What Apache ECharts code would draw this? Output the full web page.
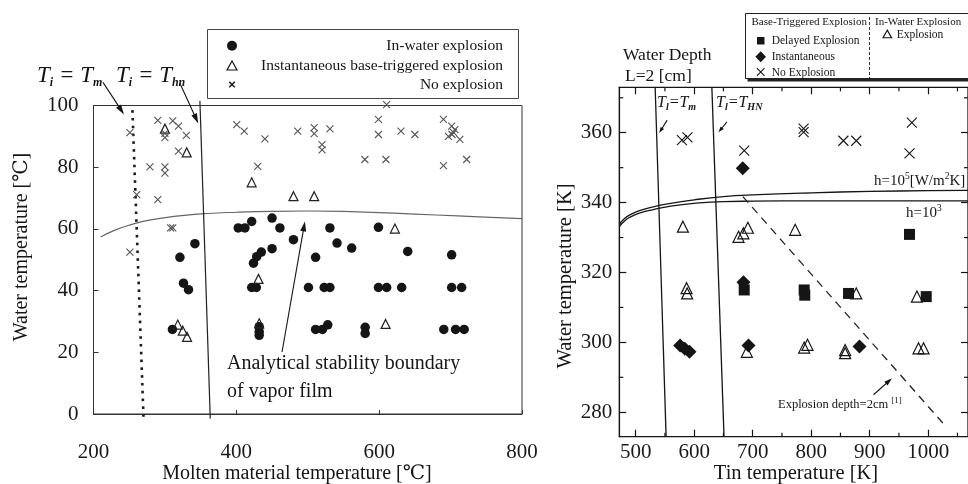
<!DOCTYPE html>
<html>
<head>
<meta charset="utf-8">
<script src="https://cdn.jsdelivr.net/npm/echarts@6/dist/echarts.min.js"></script>
<style>
  html, body { margin: 0; padding: 0; background: #fff; }
  #c { width: 968px; height: 484px; }
</style>
</head>
<body>
<div id="c"></div>
<script>
const SERIF = "'Liberation Serif', 'DejaVu Serif', serif";

// ---------- Left panel: molten material temperature [°C] vs water temperature [°C] ----------
const leftXTicks = [200, 400, 600, 800];
const leftYTicks = [0, 20, 40, 60, 80, 100];

// In-water explosion (filled circles)
const leftInWater = [
  [402.7, 60.3], [412, 60.3], [421.5, 62.4], [450, 63.5], [461, 60.3], [480, 56.5], [531, 60.3], [599, 60.5],
  [342, 55.2], [321, 50.8], [424, 48.9], [428.5, 51.0], [435, 52.5], [450, 53.6], [511, 50.8], [541, 55.4],
  [561.5, 53.8], [640, 52.7], [701.5, 51.6],
  [326, 42.4], [333, 40.3], [421.5, 41], [428, 41], [501, 41], [523, 41], [531, 41], [599, 41], [610.5, 41],
  [631.5, 41], [701.5, 41], [715.5, 41],
  [310.5, 27.4], [432, 28.3], [432, 26.7], [432, 25.5], [511, 27.4], [520.6, 27.4], [528, 28.9],
  [580.4, 28.1], [580.4, 26.1], [690.5, 27.4], [707, 27.4], [719, 27.4]
];
// Instantaneous base-triggered explosion (open triangles)
const leftBaseTriggered = [
  [300, 92.5], [330.5, 84.8], [421.5, 75.1], [480, 70.6], [509, 70.6], [622, 60.1], [431, 43.8],
  [318, 29], [325, 27], [331, 25], [432, 29.4], [609, 29.2]
];
// No explosion (crosses)
const leftNoExplosion = [
  [251, 91.2], [290, 95.2], [311, 95], [319, 93.3], [330, 90.3], [300, 91], [300, 89.6], [319, 85.2],
  [279, 80.1], [300, 80.1], [300, 78.1], [290, 69.5], [260.5, 71.1], [308, 60.3], [311, 60.3], [251, 52.5],
  [400.5, 93.8], [411, 91.7], [440, 89.2], [430, 80.3], [486, 91.7], [509, 92.8], [509, 90.9], [531, 92.4],
  [520, 87.3], [520, 85.6], [610.5, 100.3], [599, 95.5], [599, 90.6], [630.5, 91.7], [650, 90.6],
  [580, 82.5], [609.5, 82.5], [690, 95.5], [701.5, 93.3], [697, 90], [704, 91.3], [706, 92.2],
  [702, 90.6], [713, 89], [690, 80.5], [722.5, 82.5]
];
// Analytical stability boundary of the vapor film
const leftStability = [
  [210, 57.4], [230, 59.6], [250, 61.2], [280, 62.9], [320, 64.2], [360, 65.0], [400, 65.4], [450, 65.7],
  [500, 65.8], [560, 65.6], [620, 65.1], [680, 64.5], [740, 63.9], [800, 63.3]
];
const leftTm = [[254.5, 98.5], [270, -1]];
const leftThn = [[349, 101.5], [363.5, -1.5]];
// annotation arrows [from, to]
const leftArrows = [
  [[213.3, 107.5], [242.7, 97.1]],
  [[321, 107.2], [346.7, 94.2]],
  [[464, 20.1], [496, 62.4]]
];

// ---------- Right panel: tin temperature [K] vs water temperature [K] ----------
const rightXTicks = [500, 600, 700, 800, 900, 1000];
const rightXMinor = [550, 650, 750, 850, 950, 1050];
const rightYTicks = [280, 300, 320, 340, 360];
const rightYMinor = [290, 310, 330, 350, 370];

const rightDelayed = [[968, 330.9], [685.5, 315], [788, 315], [789, 313.5], [863.8, 314], [996.6, 313.1]];
const rightInstantaneous = [[683, 349.8], [684.3, 317.2], [576, 299.1], [584, 298.2], [592, 297.3], [692.8, 299.1], [882.6, 298.8]];
const rightNoExplosion = [[579, 357.9], [588.5, 358.7], [685.5, 354.9], [787, 361.2], [787, 360.2], [855, 357.7], [877, 357.7], [972, 362.9], [968, 354.1]];
const rightInWater = [
  [580.7, 333.1], [675.8, 330.2], [684, 331.2], [691.8, 332.8], [772.6, 332.2],
  [587, 315.5], [588, 314], [877, 314], [980.7, 313.1],
  [690, 297.3], [788, 298.5], [793.7, 299.3], [858, 297.8], [858, 296.9], [983.4, 298.3], [992, 298.3]
];
const rightH5 = [[472, 333.8], [480, 335.3], [490, 336.5], [505, 337.6], [530, 338.8], [560, 339.8], [600, 340.8], [650, 341.7], [700, 342.2], [800, 342.8], [900, 343.2], [1000, 343.4], [1068, 343.5]];
const rightH3 = [[472, 333.1], [480, 334.6], [490, 335.8], [505, 336.9], [530, 338.0], [560, 339.0], [600, 339.8], [650, 340.3], [700, 340.4], [800, 340.5], [1068, 340.5]];
const rightTm = [[533.3, 373], [552, 273]];
const rightThn = [[630.2, 373], [651, 273]];
const rightDepth = [[683.2, 341.7], [1025, 276.9]];
const rightArrows = [
  [[553.8, 363.6], [540.2, 359.9]],
  [[655.9, 363.1], [641.5, 360.1]],
  [[906.5, 285], [938, 289.7]]
];

const INK = '#151515';
const CROSS = 'path://M0,0L10,10M10,0L0,10';
const plain = v => String(v);

function lineSeries(name, data, xi, yi, style, extra) {
  return Object.assign({
    name, type: 'line', data, xAxisIndex: xi, yAxisIndex: yi,
    showSymbol: false, symbol: 'none', clip: false, silent: true,
    lineStyle: style, z: 3
  }, extra || {});
}
function tickSeries(data, xi, yi, size, offset) {
  return {
    type: 'scatter', data, xAxisIndex: xi, yAxisIndex: yi, symbol: 'rect',
    symbolSize: size, symbolOffset: offset, clip: false, silent: true,
    itemStyle: { color: INK, opacity: 1 }, z: 4
  };
}

const bottomMinor = rightXMinor.map(v => [v, 273]);
const topMinor = rightXMinor.map(v => [v, 373]);
const leftMinor = rightYMinor.map(v => [472, v]);
const rightMinor = rightYMinor.map(v => [1068, v]);

const axisFont = { fontFamily: SERIF, color: '#1a1a1a' };

const option = {
  animation: false,
  backgroundColor: '#ffffff',
  grid: [
    { left: 93.5, top: 105.5, width: 428.5, height: 308.5, show: true, borderColor: '#333', borderWidth: 1, backgroundColor: 'transparent' },
    { left: 619.3, top: 87.3, width: 348.7, height: 349.4, show: true, borderColor: INK, borderWidth: 1.2, backgroundColor: 'transparent' }
  ],
  xAxis: [
    {
      gridIndex: 0, type: 'value', min: leftXTicks[0], max: leftXTicks[leftXTicks.length - 1], interval: 200,
      axisLine: { show: true, lineStyle: { color: '#333' } },
      axisTick: { inside: true, length: 4, lineStyle: { color: '#333' } },
      axisLabel: Object.assign({ margin: 28, fontSize: 21, formatter: plain }, axisFont),
      splitLine: { show: false }
    },
    {
      gridIndex: 1, type: 'value', min: 472, max: 1068, position: 'bottom',
      axisLine: { show: true, lineStyle: { color: INK, width: 1.2 } },
      axisTick: { inside: true, length: 7, customValues: rightXTicks, lineStyle: { color: INK, width: 1.2 } },
      axisLabel: Object.assign({ margin: 5, fontSize: 21, customValues: rightXTicks, formatter: plain }, axisFont),
      splitLine: { show: false }
    },
    {
      gridIndex: 1, type: 'value', min: 472, max: 1068, position: 'top',
      axisLine: { show: true, lineStyle: { color: INK, width: 1.2 } },
      axisTick: { inside: true, length: 7, customValues: rightXTicks, lineStyle: { color: INK, width: 1.2 } },
      axisLabel: { show: false },
      splitLine: { show: false }
    }
  ],
  yAxis: [
    {
      gridIndex: 0, type: 'value', min: leftYTicks[0], max: leftYTicks[leftYTicks.length - 1], interval: 20,
      axisLine: { show: true, lineStyle: { color: '#333' } },
      axisTick: { inside: true, length: 5, lineStyle: { color: '#333' } },
      axisLabel: Object.assign({ margin: 15, fontSize: 21, formatter: plain }, axisFont),
      splitLine: { show: false }
    },
    {
      gridIndex: 1, type: 'value', min: 273, max: 373, position: 'left',
      axisLine: { show: true, lineStyle: { color: INK, width: 1.2 } },
      axisTick: { inside: true, length: 7, customValues: rightYTicks, lineStyle: { color: INK, width: 1.2 } },
      axisLabel: Object.assign({ margin: 7, fontSize: 21, customValues: rightYTicks, formatter: plain }, axisFont),
      splitLine: { show: false }
    },
    {
      gridIndex: 1, type: 'value', min: 273, max: 373, position: 'right',
      axisLine: { show: true, lineStyle: { color: INK, width: 1.2 } },
      axisTick: { inside: true, length: 7, customValues: rightYTicks, lineStyle: { color: INK, width: 1.2 } },
      axisLabel: { show: false },
      splitLine: { show: false }
    }
  ],
  series: [
    // left panel
    lineSeries('Analytical stability boundary', leftStability, 0, 0, { color: '#666', width: 1.2 }, { smooth: true }),
    lineSeries('Ti=Tm', leftTm, 0, 0, { color: '#1a1a1a', width: 2.6, type: [2.6, 5.2] }),
    lineSeries('Ti=Thn', leftThn, 0, 0, { color: '#222', width: 1.2 }),
    {
      name: 'In-water explosion', type: 'scatter', data: leftInWater, xAxisIndex: 0, yAxisIndex: 0,
      symbol: 'circle', symbolSize: 9.5, itemStyle: { color: INK, opacity: 1 }, z: 5
    },
    {
      name: 'Instantaneous base-triggered explosion', type: 'scatter', data: leftBaseTriggered, xAxisIndex: 0, yAxisIndex: 0,
      symbol: 'triangle', symbolSize: 9, itemStyle: { color: 'rgba(0,0,0,0)', borderColor: '#222', borderWidth: 1.2, opacity: 1 }, z: 5
    },
    {
      name: 'No explosion', type: 'scatter', data: leftNoExplosion, xAxisIndex: 0, yAxisIndex: 0, clip: false,
      symbol: CROSS, symbolSize: 7, itemStyle: { color: 'rgba(0,0,0,0)', borderColor: '#555', borderWidth: 1.1, opacity: 1 }, z: 5
    },
    // right panel
    lineSeries('h=1e5', rightH5, 1, 1, { color: INK, width: 1.3 }, { smooth: true }),
    lineSeries('h=1e3', rightH3, 1, 1, { color: INK, width: 1.3 }, { smooth: true }),
    lineSeries('Tl=Tm', rightTm, 1, 1, { color: INK, width: 1.3 }),
    lineSeries('Tl=THN', rightThn, 1, 1, { color: INK, width: 1.3 }),
    lineSeries('Explosion depth', rightDepth, 1, 1, { color: '#222', width: 1.3, type: [8, 6] }),
    {
      name: 'Delayed Explosion', type: 'scatter', data: rightDelayed, xAxisIndex: 1, yAxisIndex: 1,
      symbol: 'rect', symbolSize: 11, itemStyle: { color: INK, opacity: 1 }, z: 5
    },
    {
      name: 'Instantaneous', type: 'scatter', data: rightInstantaneous, xAxisIndex: 1, yAxisIndex: 1,
      symbol: 'diamond', symbolSize: 14, itemStyle: { color: INK, opacity: 1 }, z: 5
    },
    {
      name: 'No Explosion', type: 'scatter', data: rightNoExplosion, xAxisIndex: 1, yAxisIndex: 1,
      symbol: CROSS, symbolSize: 10, itemStyle: { color: 'rgba(0,0,0,0)', borderColor: INK, borderWidth: 1.1, opacity: 1 }, z: 5
    },
    {
      name: 'In-Water Explosion', type: 'scatter', data: rightInWater, xAxisIndex: 1, yAxisIndex: 1,
      symbol: 'triangle', symbolSize: 11, itemStyle: { color: 'rgba(0,0,0,0)', borderColor: INK, borderWidth: 1.2, opacity: 1 }, z: 5
    },
    // minor ticks of the right frame
    tickSeries(bottomMinor, 1, 1, [1.2, 4], [0, -2]),
    tickSeries(topMinor, 1, 1, [1.2, 4], [0, 2]),
    tickSeries(leftMinor, 1, 1, [4, 1.2], [2, 0]),
    tickSeries(rightMinor, 1, 1, [4, 1.2], [-2, 0])
  ]
};

const chart = echarts.init(document.getElementById('c'), null, { renderer: 'canvas' });
chart.setOption(option);

function txt(x, y, text, size, opts) {
  return Object.assign({
    type: 'text', x, y, silent: true, z: 10,
    style: Object.assign({
      text, fontSize: size, fontFamily: SERIF, fill: INK, align: 'left', verticalAlign: 'middle'
    }, (opts && opts.style) || {})
  }, (opts && opts.el) || {});
}
function richTxt(x, y, text, rich, opts) {
  return {
    type: 'text', x, y, silent: true, z: 10,
    style: Object.assign({ text, rich, fontFamily: SERIF, fill: INK, align: 'left', verticalAlign: 'middle' }, opts || {})
  };
}
function subRich(main, sub, pad) {
  return {
    a: { fontSize: main, fontStyle: 'italic', fontFamily: SERIF, fill: INK, lineHeight: main + 4 },
    s: { fontSize: sub, fontStyle: 'italic', fontWeight: 'bold', fontFamily: SERIF, fill: INK, lineHeight: sub + 1, padding: [pad, 0, 0, 0] }
  };
}
function supRich(main, sup, pad) {
  return {
    a: { fontSize: main, fontFamily: SERIF, fill: INK, lineHeight: main + 4 },
    p: { fontSize: sup, fontFamily: SERIF, fill: INK, lineHeight: sup + 1, padding: [0, 0, pad, 0] }
  };
}
function arrowEls(seriesIndex, from, to, headLen, headW, lw) {
  const a = chart.convertToPixel({ seriesIndex }, from);
  const b = chart.convertToPixel({ seriesIndex }, to);
  const dx = b[0] - a[0], dy = b[1] - a[1], L = Math.hypot(dx, dy);
  const ux = dx / L, uy = dy / L;
  const bx = b[0] - ux * headLen, by = b[1] - uy * headLen;
  return [
    { type: 'line', silent: true, z: 10, shape: { x1: a[0], y1: a[1], x2: bx + ux, y2: by + uy }, style: { stroke: INK, lineWidth: lw } },
    {
      type: 'polygon', silent: true, z: 10,
      shape: { points: [[b[0], b[1]], [bx - uy * headW / 2, by + ux * headW / 2], [bx + uy * headW / 2, by - ux * headW / 2]] },
      style: { fill: INK }
    }
  ];
}
function tri(cx, cy, h, w) {
  return { type: 'polygon', silent: true, z: 10, shape: { points: [[cx, cy - h / 2], [cx - w / 2, cy + h / 2], [cx + w / 2, cy + h / 2]] }, style: { fill: 'none', stroke: INK, lineWidth: 1.2 } };
}
function cross(cx, cy, r, color, lw) {
  return [
    { type: 'line', silent: true, z: 10, shape: { x1: cx - r, y1: cy - r, x2: cx + r, y2: cy + r }, style: { stroke: color, lineWidth: lw } },
    { type: 'line', silent: true, z: 10, shape: { x1: cx + r, y1: cy - r, x2: cx - r, y2: cy + r }, style: { stroke: color, lineWidth: lw } }
  ];
}

const graphics = [
  // left panel legend
  { type: 'rect', silent: true, z: 9, shape: { x: 207.5, y: 29.5, width: 311, height: 69 }, style: { fill: '#fff', stroke: '#444', lineWidth: 1 } },
  { type: 'circle', silent: true, z: 10, shape: { cx: 232, cy: 45.7, r: 5 }, style: { fill: INK } },
  tri(232, 65.5, 9, 10),
  ...cross(232, 84.5, 2.8, '#222', 1.6),
  txt(503, 46, 'In-water explosion', 15.5, { style: { align: 'right' } }),
  txt(503, 65.7, 'Instantaneous base-triggered explosion', 15.5, { style: { align: 'right' } }),
  txt(503, 84.5, 'No explosion', 15.5, { style: { align: 'right' } }),

  // left panel annotations
  richTxt(37, 76, '{a|T}{s|i}{a| = T}{s|m}', subRich(23, 12, 13)),
  richTxt(116, 76, '{a|T}{s|i}{a| = T}{s|hn}', subRich(23, 12, 13)),
  txt(227, 364, 'Analytical stability boundary', 20),
  txt(227, 392, 'of vapor film', 20),
  txt(297, 474, 'Molten material temperature [℃]', 20, { style: { align: 'center' } }),
  txt(0, 0, 'Water temperature [℃]', 20, { style: { align: 'center' }, el: { x: 22, y: 247, rotation: Math.PI / 2 } }),

  // right panel legend
  { type: 'rect', silent: true, z: 8, shape: { x: 747.5, y: 15.5, width: 240, height: 66 }, style: { fill: '#222' } },
  { type: 'rect', silent: true, z: 9, shape: { x: 745.5, y: 13.5, width: 240, height: 65 }, style: { fill: '#fff', stroke: '#222', lineWidth: 1 } },
  { type: 'line', silent: true, z: 10, shape: { x1: 869.5, y1: 17, x2: 869.5, y2: 78 }, style: { stroke: '#333', lineWidth: 1, lineDash: [3, 2] } },
  txt(751.5, 22, 'Base-Triggered Explosion', 11),
  txt(875, 22, 'In-Water Explosion', 11),
  { type: 'rect', silent: true, z: 10, shape: { x: 757, y: 37, width: 7.5, height: 7.5 }, style: { fill: INK } },
  txt(771.7, 41, 'Delayed Explosion', 11.5),
  { type: 'polygon', silent: true, z: 10, shape: { points: [[760.7, 51.2], [766, 56.7], [760.7, 62.2], [755.4, 56.7]] }, style: { fill: INK } },
  txt(771.7, 57, 'Instantaneous', 11.5),
  ...cross(760.7, 72, 3.8, INK, 1.1),
  txt(771.7, 72.5, 'No Explosion', 11.5),
  tri(887.3, 34, 7.5, 8.5),
  txt(896.7, 34.5, 'Explosion', 11.5),

  // right panel annotations
  txt(623, 55, 'Water Depth', 17.5),
  txt(625, 76, 'L=2 [cm]', 17.5),
  richTxt(657, 103, '{a|T}{s|l}{a|=T}{s|m}', subRich(16, 10, 9)),
  richTxt(716, 103, '{a|T}{s|l}{a|=T}{s|HN}', subRich(16, 10, 9)),
  richTxt(874, 181, '{a|h=10}{p|5}{a|[W/m}{p|2}{a|K]}', supRich(15, 9.5, 9)),
  richTxt(906, 213, '{a|h=10}{p|3}', supRich(15, 9.5, 9)),
  richTxt(778, 405, '{a|Explosion depth=2cm }{p|[1]}', supRich(12.5, 9, 8)),
  txt(796, 474, 'Tin temperature [K]', 20.5, { style: { align: 'center' } }),
  txt(0, 0, 'Water temperature [K]', 20.5, { style: { align: 'center' }, el: { x: 566, y: 276, rotation: Math.PI / 2 } })
];

leftArrows.forEach(([f, t]) => graphics.push(...arrowEls(3, f, t, 10, 6, 1.1)));
rightArrows.forEach(([f, t], i) => graphics.push(...arrowEls(11, f, t, i === 2 ? 8 : 6, i === 2 ? 5 : 4, 1.1)));

chart.setOption({ graphic: graphics });
</script>
</body>
</html>
